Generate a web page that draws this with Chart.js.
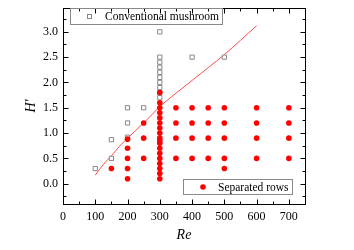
<!DOCTYPE html>
<html>
<head>
<meta charset="utf-8">
<script src="https://cdn.jsdelivr.net/npm/chart.js@4"></script>
<style>
  html, body { margin: 0; padding: 0; background: #fff; }
</style>
</head>
<body>
<canvas id="chart" width="354" height="250"></canvas>
<script>
// Conventional mushroom (open squares)
const mushroomRe = [100, 150, 150, 200, 200, 200, 250, 300, 300, 300, 300, 300, 300, 300, 300, 300, 300, 400, 500]
const mushroomH  = [0.3, 0.5, 0.87, 0.92, 1.2, 1.5, 1.5, 1.7, 1.8, 1.9, 2.0, 2.1, 2.2, 2.3, 2.4, 2.5, 3.0, 2.5, 2.5]

// Separated rows (red dots)
const rowsRe = [
  150,
  200, 200, 200, 200, 200,
  250, 250, 250,
  300, 300, 300, 300, 300, 300, 300, 300, 300, 300, 300, 300, 300, 300, 300, 300, 300, 300,
  350, 350, 350, 350,
  400, 400, 400, 400,
  450, 450, 450, 450,
  500, 500, 500, 500, 500,
  600, 600, 600, 600,
  700, 700, 700, 700
]
const rowsH = [
  0.3,
  0.1, 0.3, 0.5, 0.7, 0.88,
  0.5, 0.9, 1.2,
  0.1, 0.2, 0.3, 0.4, 0.5, 0.6, 0.7, 0.8, 0.85, 0.9, 1.0, 1.1, 1.2, 1.3, 1.4, 1.5, 1.6, 1.8,
  0.5, 0.9, 1.2, 1.5,
  0.5, 0.9, 1.2, 1.5,
  0.5, 0.9, 1.2, 1.5,
  0.3, 0.5, 0.9, 1.2, 1.5,
  0.5, 0.9, 1.2, 1.5,
  0.5, 0.9, 1.2, 1.5
]

// Boundary curve (red line)
const fitRe = [100, 125, 150, 175, 200, 250, 300, 400, 500, 600]
const fitH  = [0.17, 0.38, 0.55, 0.74, 0.9, 1.2, 1.52, 2.04, 2.55, 3.12]

// Axis ticks
const xTicks = [0, 100, 200, 300, 400, 500, 600, 700]
const xMinor = [50, 150, 250, 350, 450, 550, 650]
const yTicks = [0.0, 0.5, 1.0, 1.5, 2.0, 2.5, 3.0]
const yMinor = [-0.25, 0.25, 0.75, 1.25, 1.75, 2.25, 2.75, 3.25]

const toPoints = (xs, ys) => xs.map((x, i) => ({ x, y: ys[i] }))

const SERIF = '"Liberation Serif", "DejaVu Serif", serif'

// Frame, inward ticks, axis titles and the two inset legends
const framePlugin = {
  id: 'frame',
  afterDraw (chart) {
    const { ctx, chartArea: a } = chart
    const xs = chart.scales.x
    const ys = chart.scales.y
    ctx.save()
    ctx.strokeStyle = '#000'
    ctx.lineWidth = 1
    ctx.strokeRect(Math.round(a.left) + 0.5, Math.round(a.top) + 0.5,
      Math.round(a.right - a.left), Math.round(a.bottom - a.top))

    const tick = (x1, y1, x2, y2) => {
      ctx.beginPath(); ctx.moveTo(x1, y1); ctx.lineTo(x2, y2); ctx.stroke()
    }
    const top = Math.round(a.top) + 0.5
    const bot = Math.round(a.bottom) + 0.5
    const lft = Math.round(a.left) + 0.5
    const rgt = Math.round(a.right) + 0.5
    xTicks.concat(xMinor).forEach(v => {
      const len = xTicks.includes(v) ? 5 : 3
      const px = Math.round(xs.getPixelForValue(v)) + 0.5
      tick(px, bot, px, bot - len)
      tick(px, top, px, top + len)
    })
    yTicks.concat(yMinor).forEach(v => {
      const len = yTicks.includes(v) ? 5 : 3
      const py = Math.round(ys.getPixelForValue(v)) + 0.5
      tick(lft, py, lft + len, py)
      tick(rgt, py, rgt - len, py)
    })

    // axis titles
    ctx.fillStyle = '#000'
    ctx.font = 'italic 14px ' + SERIF
    ctx.textAlign = 'center'
    ctx.textBaseline = 'middle'
    ctx.fillText('Re', (a.left + a.right) / 2, 235)
    ctx.save()
    ctx.translate(31, (a.top + a.bottom) / 2)
    ctx.rotate(-Math.PI / 2)
    ctx.fillText("H'", 0, 0)
    ctx.restore()

    // legends
    ctx.font = '11.5px ' + SERIF
    ctx.textAlign = 'left'
    ctx.strokeStyle = '#888'
    ctx.strokeRect(70.5, 8.5, 152, 16)
    ctx.strokeRect(87.5, 14.5, 4, 4)
    ctx.fillText('Conventional mushroom', 105, 17)

    ctx.strokeRect(183.5, 179.5, 109, 15)
    ctx.fillStyle = '#ff0000'
    ctx.beginPath(); ctx.arc(203, 187, 2.8, 0, Math.PI * 2); ctx.fill()
    ctx.fillStyle = '#000'
    ctx.fillText('Separated rows', 218, 187.5)
    ctx.restore()
  }
}

new Chart(document.getElementById('chart'), {
  type: 'scatter',
  data: {
    datasets: [
      {
        label: 'Boundary',
        type: 'line',
        data: toPoints(fitRe, fitH),
        borderColor: '#ff4a4a',
        borderWidth: 1,
        pointRadius: 0,
        cubicInterpolationMode: 'monotone',
        fill: false,
        order: 3
      },
      {
        label: 'Conventional mushroom',
        data: toPoints(mushroomRe, mushroomH),
        pointStyle: 'rect',
        pointRadius: 3,
        borderColor: '#888',
        backgroundColor: '#fff',
        borderWidth: 1,
        order: 2
      },
      {
        label: 'Separated rows',
        data: toPoints(rowsRe, rowsH),
        pointStyle: 'circle',
        pointRadius: 2.8,
        borderWidth: 0,
        backgroundColor: '#ff0000',
        order: 1
      }
    ]
  },
  options: {
    responsive: false,
    devicePixelRatio: 1,
    animation: false,
    layout: { padding: { left: 0, top: 8, right: 49, bottom: 0 } },
    plugins: { legend: { display: false }, tooltip: { enabled: false } },
    scales: {
      x: {
        type: 'linear',
        min: 0,
        max: 750,
        grid: { display: false, drawTicks: false },
        border: { display: false },
        afterBuildTicks: s => { s.ticks = xTicks.map(v => ({ value: v })) },
        afterFit: s => { s.height = 46; s.paddingLeft = 0; s.paddingRight = 0 },
        ticks: { color: '#000', padding: 6, font: { family: SERIF, size: 12 }, maxRotation: 0 }
      },
      y: {
        min: -0.4,
        max: 3.47,
        grid: { display: false, drawTicks: false },
        border: { display: false },
        afterBuildTicks: s => { s.ticks = yTicks.map(v => ({ value: v })) },
        afterFit: s => { s.width = 63; s.paddingTop = 0; s.paddingBottom = 0 },
        ticks: {
          color: '#000',
          padding: 5,
          font: { family: SERIF, size: 12 },
          callback: v => v.toFixed(1)
        }
      }
    }
  },
  plugins: [framePlugin]
})
</script>
</body>
</html>
